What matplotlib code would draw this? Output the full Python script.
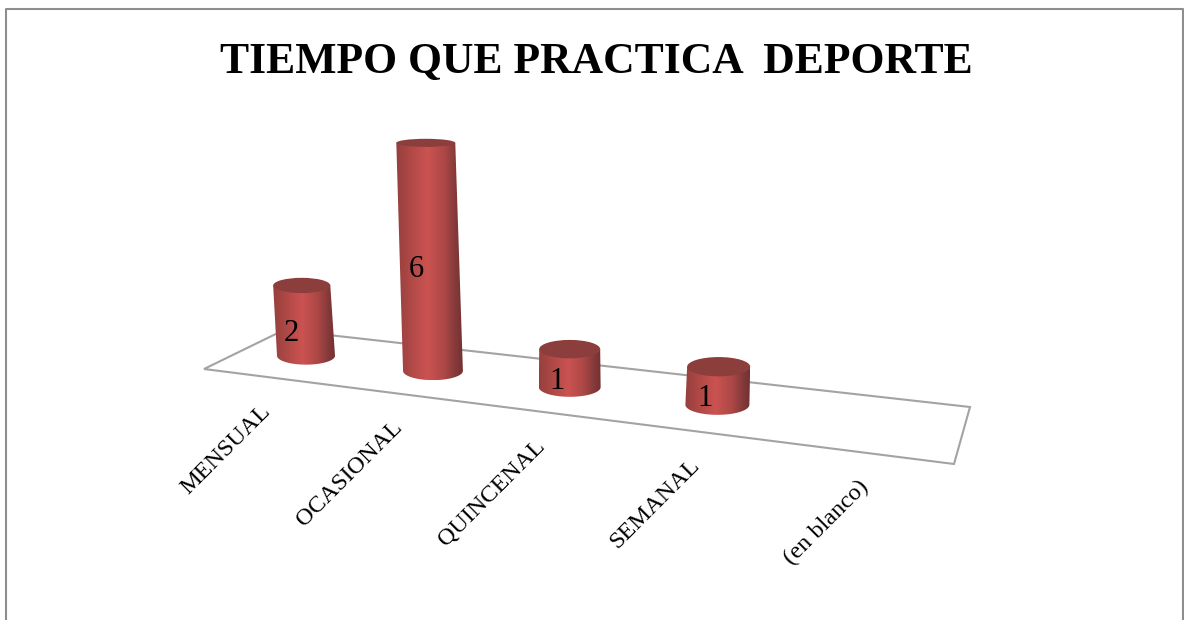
import numpy as np
import matplotlib
matplotlib.use("Agg")
import matplotlib.pyplot as plt
from matplotlib.colors import LinearSegmentedColormap
from matplotlib.patches import Ellipse, PathPatch
from matplotlib.path import Path

categories = ["MENSUAL", "OCASIONAL", "QUINCENAL", "SEMANAL", "(en blanco)"]
values = [2, 6, 1, 1, None]
chart_title = "TIEMPO QUE PRACTICA  DEPORTE"

W, H = 1184, 620
SERIF = ["Cambria", "Liberation Serif", "DejaVu Serif"]

# Floor plane corners in canvas units: front-left, front-right, back-right, back-left
FLOOR = np.array([[204, 369], [954, 464], [970, 407], [284, 330]], dtype=float)
LEAN = 2.3e-4               # convergence of verticals
LEAN_X0 = 570
DEPTH = 0.50                # depth of the bars on the floor
SQUASH = 0.025              # ellipse flattening grows with canvas y


def homography(quad):
    src = [(0, 0), (1, 0), (1, 1), (0, 1)]
    rows, rhs = [], []
    for (u, v), (x, y) in zip(src, quad):
        rows.append([u, v, 1, 0, 0, 0, -u * x, -v * x]); rhs.append(x)
        rows.append([0, 0, 0, u, v, 1, -u * y, -v * y]); rhs.append(y)
    h = np.linalg.solve(np.array(rows), np.array(rhs))
    return np.append(h, 1).reshape(3, 3)


HOM = homography(FLOOR)


def floor_point(u, v):
    p = HOM @ np.array([u, v, 1.0])
    return p[:2] / p[2]


shade = LinearSegmentedColormap.from_list(
    "cyl", [(0, "#96403e"), (0.18, "#ab4745"), (0.47, "#cb5351"),
            (0.72, "#ad4846"), (0.9, "#83393a"), (1, "#74312f")])

fig = plt.figure(figsize=(W / 100, H / 100), dpi=100, facecolor="white")
ax = fig.add_axes([0, 0, 1, 1])
ax.set_axis_off()

# Outer chart frame, open at the bottom
ax.plot([6, 6, 1183, 1183], [H, 8.5, 8.5, H], color="#8e8e8e", lw=1.5, zorder=1)

ax.text(596, 62, chart_title, ha="center", va="center", fontsize=31.4,
        fontweight="bold", family=SERIF, color="black", zorder=6)

# Floor outline
ax.add_patch(plt.Polygon(FLOOR, closed=True, fc="white", ec="#a3a3a3", lw=1.5, zorder=2))

n = len(categories)
for i, (name, val) in enumerate(zip(categories, values)):
    u = (i + 0.5) / n

    # Category label sits just below the front edge of the floor
    fx, fy = floor_point(u, 0)
    ax.text(fx + 1, fy + 31, name, rotation=45, rotation_mode="anchor", ha="right",
            va="center", fontsize=17.5, family=SERIF, color="black", zorder=6)

    if val is None:
        continue

    bx, by = floor_point(u, DEPTH)
    r_bottom = 29 + 0.0073 * (bx - 306)
    r_top = r_bottom * 0.985
    h = val * min(38.0, 35.0 + 0.2 * (by - 355))   # nearer bars appear taller per unit
    tx = bx + (bx - LEAN_X0) * h * LEAN
    ty = by - h
    m_bottom, m_top = SQUASH * by, SQUASH * ty + 0.5

    # Cylinder side: straight edges closed by the lower half of the base ellipse
    t = np.linspace(np.pi, 0, 40)
    arc_x = bx + r_bottom * np.cos(t)
    arc_y = by + m_bottom * np.sin(t)
    verts = [(tx - r_top, ty)] + list(zip(arc_x, arc_y)) + [(tx + r_top, ty), (tx - r_top, ty)]
    codes = [Path.MOVETO] + [Path.LINETO] * (len(verts) - 2) + [Path.CLOSEPOLY]
    clip = PathPatch(Path(verts, codes), fc="none", ec="none", transform=ax.transData)
    ax.add_patch(clip)
    x0, x1 = min(tx - r_top, bx - r_bottom), max(tx + r_top, bx + r_bottom)
    img = ax.imshow(np.linspace(0, 1, 200)[None, :], cmap=shade, aspect="auto",
                    extent=(x0, x1, by + m_bottom, ty), zorder=3, interpolation="bilinear")
    img.set_clip_path(clip)

    # Cylinder cap
    ax.add_patch(Ellipse((tx, ty), 2 * r_top, 2 * m_top, fc="#8c3e3c", ec="none", zorder=4))

    ax.text((bx + tx) / 2 - 13, (by + ty) / 2 + 13, str(val), ha="center", va="center",
            fontsize=22, family=SERIF, color="black", zorder=6)

ax.set_xlim(0, W)
ax.set_ylim(H, 0)
fig.savefig("out.png", dpi=100, facecolor="white")
